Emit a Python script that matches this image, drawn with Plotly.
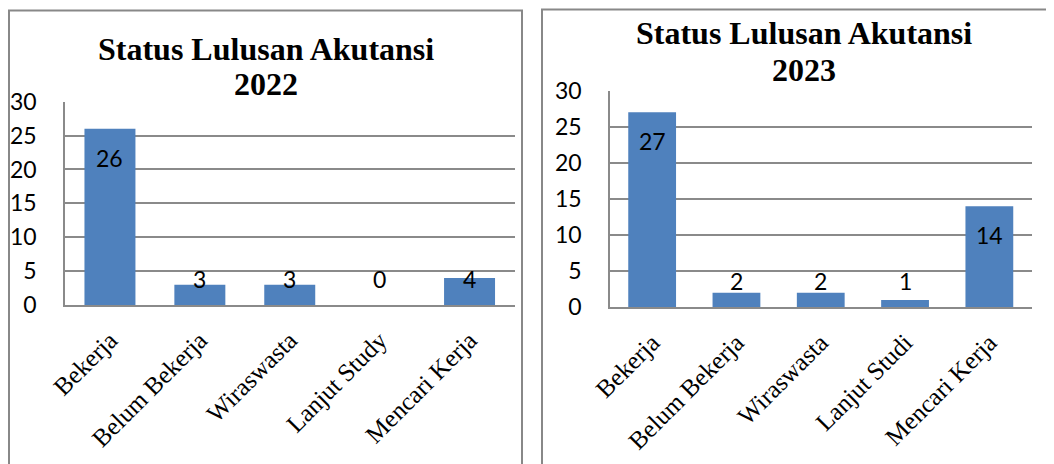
import plotly.graph_objects as go

# ---- data ----
cats_2022 = ["Bekerja", "Belum Bekerja", "Wiraswasta", "Lanjut Study", "Mencari Kerja"]
vals_2022 = [26, 3, 3, 0, 4]
cats_2023 = ["Bekerja", "Belum Bekerja", "Wiraswasta", "Lanjut Studi", "Mencari Kerja"]
vals_2023 = [27, 2, 2, 1, 14]
title_2022 = ["Status Lulusan Akutansi", "2022"]
title_2023 = ["Status Lulusan Akutansi", "2023"]
y_ticks = [0, 5, 10, 15, 20, 25, 30]

# page has an 8px body margin: the figure is sized to fill the rest of the window
OFF = 8
W, H = 1054 - OFF, 464 - OFF
BAR = "#4F81BD"
GRID = "#8a8a8a"
SANS = "Lato"
SERIF = "Liberation Serif"

def px_x(p):
    return (p - OFF) / W

def px_y(p):
    return 1 - (p - OFF) / H

fig = go.Figure()

panels = [
    dict(cats=cats_2022, vals=vals_2022, title=title_2022, xa="x", ya="y",
         xd=[px_x(65), px_x(514.5)], yd=[px_y(305), px_y(101.7)],
         tcx=265.5, t1=49.3, t2=83.5),
    dict(cats=cats_2023, vals=vals_2023, title=title_2023, xa="x2", ya="y2",
         xd=[px_x(610), px_x(1031.5)], yd=[px_y(307.3), px_y(90.7)],
         tcx=804.0, t1=33.0, t2=69.5),
]

annotations = []
for i, p in enumerate(panels):
    fig.add_trace(go.Bar(x=p["cats"], y=p["vals"], marker=dict(color=BAR, line=dict(width=0)),
                         xaxis=p["xa"], yaxis=p["ya"], showlegend=False, hoverinfo="skip"))
    sfx = "" if i == 0 else "2"
    axis_common_x = dict(domain=p["xd"], showline=True, linecolor=GRID, linewidth=1.5,
                         showgrid=False, tickangle=-45, ticks="", automargin=False,
                         tickfont=dict(family=SERIF, size=25, color="black"),
                         ticklabelstandoff=9, anchor="y" + sfx, fixedrange=True)
    axis_common_y = dict(domain=p["yd"], range=[0, 30], tickvals=y_ticks, showline=True,
                         linecolor=GRID, linewidth=1.5, showgrid=True, gridcolor=GRID,
                         gridwidth=1.5, zeroline=False, ticks="", automargin=False,
                         tickfont=dict(family=SANS, size=23, color="black"),
                         ticklabelstandoff=22, anchor="x" + sfx, fixedrange=True)
    fig.update_layout(**{"xaxis" + sfx: axis_common_x, "yaxis" + sfx: axis_common_y})

    # data labels (Excel-style inside end, clamped above baseline)
    plot_h = (p["yd"][1] - p["yd"][0]) * H
    ppu = plot_h / 30
    for c, v in zip(p["cats"], p["vals"]):
        if v * ppu - 29 > 26:
            y, ys = v, -29
        else:
            y, ys = 0, 26
        annotations.append(dict(x=c, y=y, xref=p["xa"], yref=p["ya"], text=str(v),
                                showarrow=False, yshift=ys, yanchor="middle",
                                font=dict(family=SANS, size=23, color="black")))
    # titles
    for txt, yy in zip(p["title"], [p["t1"], p["t2"]]):
        annotations.append(dict(x=px_x(p["tcx"]), y=px_y(yy), xref="paper", yref="paper",
                                text="<b>" + txt + "</b>", showarrow=False,
                                xanchor="center", yanchor="middle",
                                font=dict(family=SERIF, size=32, color="black")))

shapes = [
    dict(type="rect", xref="paper", yref="paper", x0=px_x(9), x1=px_x(522),
         y0=-0.1, y1=px_y(10.5), line=dict(color="#888888", width=2)),
    dict(type="rect", xref="paper", yref="paper", x0=px_x(542), x1=px_x(1070),
         y0=-0.1, y1=px_y(9.5), line=dict(color="#888888", width=2)),
]

fig.update_layout(template="none", width=W, height=H, margin=dict(l=0, r=0, t=0, b=0),
                  paper_bgcolor="white", plot_bgcolor="white", bargap=0.433,
                  annotations=annotations, shapes=shapes, showlegend=False)

fig.write_html("out.html", config={"displayModeBar": False})
